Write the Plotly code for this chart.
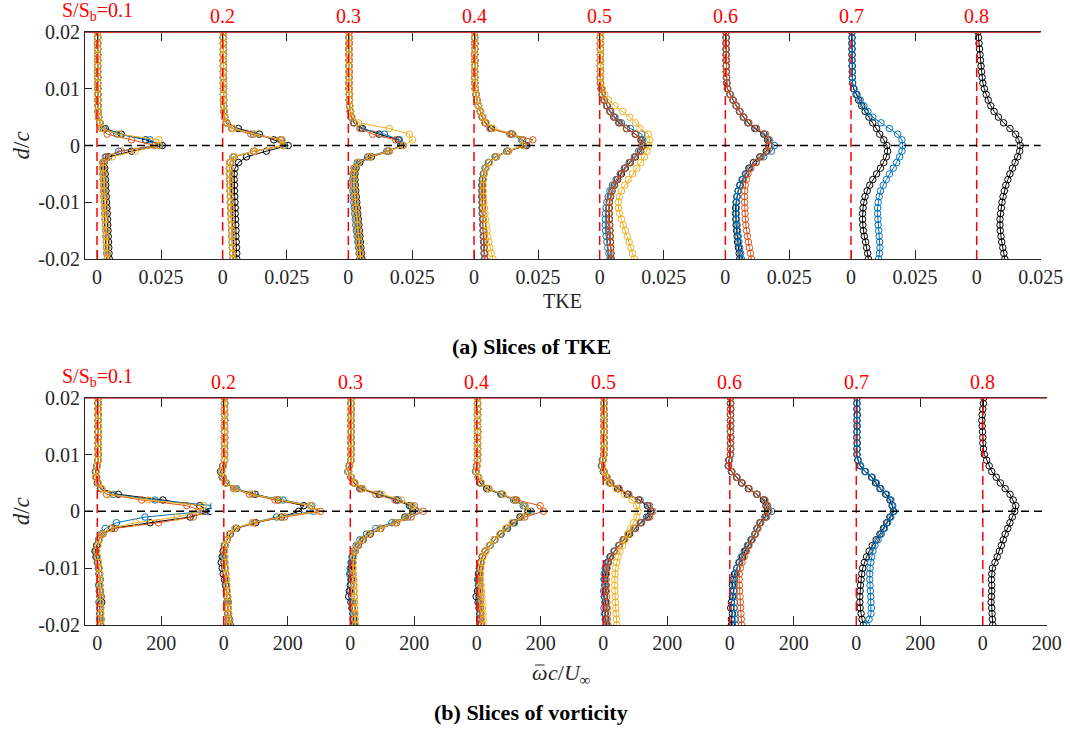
import plotly.graph_objects as go

# ---------------------------------------------------------------------------
# Wall-normal coordinate shared by every profile
# ---------------------------------------------------------------------------
D_C = [0.020, 0.019, 0.018, 0.017, 0.016, 0.015, 0.014, 0.013, 0.012, 0.011,
       0.010, 0.009, 0.008, 0.007, 0.006, 0.005, 0.004, 0.003, 0.002, 0.001,
       0.000, -0.001, -0.002, -0.003, -0.004, -0.005, -0.006, -0.007, -0.008, -0.009,
       -0.010, -0.011, -0.012, -0.013, -0.014, -0.015, -0.016, -0.017, -0.018, -0.019,
       -0.020]

SLICE_LABELS = ["0.1", "0.2", "0.3", "0.4", "0.5", "0.6", "0.7", "0.8"]
Y_TICKS = [-0.02, -0.01, 0.0, 0.01, 0.02]
Y_TICK_TEXT = ["-0.02", "-0.01", "0", "0.01", "0.02"]

# ---------------------------------------------------------------------------
# TKE profiles (k = black, b = blue, o = orange, y = yellow)
# ---------------------------------------------------------------------------
TKE_01_K = [0.0003, 0.0003, 0.0002, 0.0003, 0.0003, 0.0003, 0.0002, 0.0003, 0.0003, 0.0003,
            0.0003, 0.0004, 0.0003, 0.0004, 0.0004, 0.0006, 0.0011, 0.0032, 0.0095, 0.0190,
            0.0255, 0.0135, 0.0045, 0.0028, 0.0030, 0.0032, 0.0033, 0.0034, 0.0035, 0.0036,
            0.0037, 0.0039, 0.0040, 0.0041, 0.0042, 0.0043, 0.0044, 0.0045, 0.0046, 0.0047, 0.0048]
TKE_01_B = [0.0002, 0.0003, 0.0003, 0.0002, 0.0003, 0.0003, 0.0003, 0.0002, 0.0003, 0.0003,
            0.0003, 0.0003, 0.0004, 0.0004, 0.0005, 0.0007, 0.0012, 0.0025, 0.0077, 0.0207,
            0.0245, 0.0085, 0.0036, 0.0025, 0.0024, 0.0025, 0.0026, 0.0027, 0.0028, 0.0029,
            0.0030, 0.0031, 0.0032, 0.0033, 0.0034, 0.0035, 0.0036, 0.0037, 0.0038, 0.0039, 0.0040]
TKE_01_O = [0.0003, 0.0002, 0.0003, 0.0003, 0.0002, 0.0003, 0.0003, 0.0003, 0.0002, 0.0003,
            0.0003, 0.0003, 0.0003, 0.0004, 0.0004, 0.0006, 0.0010, 0.0018, 0.0040, 0.0135,
            0.0226, 0.0095, 0.0032, 0.0022, 0.0022, 0.0023, 0.0024, 0.0025, 0.0026, 0.0027,
            0.0028, 0.0029, 0.0030, 0.0031, 0.0033, 0.0034, 0.0035, 0.0036, 0.0037, 0.0038, 0.0040]
TKE_01_Y = [0.0003, 0.0003, 0.0003, 0.0002, 0.0003, 0.0003, 0.0002, 0.0003, 0.0003, 0.0003,
            0.0002, 0.0003, 0.0003, 0.0004, 0.0005, 0.0007, 0.0012, 0.0020, 0.0085, 0.0242,
            0.0240, 0.0150, 0.0060, 0.0026, 0.0024, 0.0025, 0.0026, 0.0027, 0.0028, 0.0029,
            0.0030, 0.0031, 0.0032, 0.0033, 0.0034, 0.0035, 0.0036, 0.0037, 0.0038, 0.0039, 0.0040]

TKE_02_K = [0.0003, 0.0002, 0.0003, 0.0003, 0.0003, 0.0002, 0.0003, 0.0003, 0.0003, 0.0003,
            0.0003, 0.0003, 0.0004, 0.0004, 0.0005, 0.0008, 0.0016, 0.0061, 0.0143, 0.0200,
            0.0256, 0.0171, 0.0093, 0.0062, 0.0048, 0.0045, 0.0045, 0.0046, 0.0046, 0.0047,
            0.0048, 0.0049, 0.0049, 0.0050, 0.0051, 0.0052, 0.0052, 0.0053, 0.0054, 0.0055, 0.0055]
TKE_02_B = [0.0002, 0.0003, 0.0003, 0.0003, 0.0002, 0.0003, 0.0003, 0.0003, 0.0002, 0.0003,
            0.0003, 0.0003, 0.0003, 0.0004, 0.0005, 0.0007, 0.0014, 0.0040, 0.0120, 0.0230,
            0.0242, 0.0125, 0.0040, 0.0028, 0.0026, 0.0026, 0.0027, 0.0028, 0.0029, 0.0030,
            0.0030, 0.0031, 0.0032, 0.0033, 0.0034, 0.0035, 0.0036, 0.0037, 0.0038, 0.0039, 0.0040]
TKE_02_O = [0.0003, 0.0003, 0.0002, 0.0003, 0.0003, 0.0003, 0.0002, 0.0003, 0.0003, 0.0003,
            0.0003, 0.0003, 0.0003, 0.0004, 0.0005, 0.0007, 0.0013, 0.0035, 0.0110, 0.0225,
            0.0236, 0.0120, 0.0045, 0.0030, 0.0028, 0.0028, 0.0029, 0.0030, 0.0030, 0.0031,
            0.0032, 0.0033, 0.0033, 0.0034, 0.0035, 0.0036, 0.0037, 0.0038, 0.0038, 0.0039, 0.0040]
TKE_02_Y = [0.0003, 0.0003, 0.0003, 0.0002, 0.0003, 0.0003, 0.0003, 0.0003, 0.0002, 0.0003,
            0.0003, 0.0003, 0.0004, 0.0004, 0.0005, 0.0008, 0.0015, 0.0040, 0.0125, 0.0233,
            0.0238, 0.0125, 0.0042, 0.0027, 0.0026, 0.0026, 0.0027, 0.0028, 0.0029, 0.0030,
            0.0031, 0.0032, 0.0033, 0.0034, 0.0035, 0.0036, 0.0037, 0.0038, 0.0039, 0.0040, 0.0041]

TKE_03_K = [0.0003, 0.0003, 0.0003, 0.0002, 0.0003, 0.0003, 0.0003, 0.0003, 0.0003, 0.0003,
            0.0003, 0.0004, 0.0004, 0.0005, 0.0008, 0.0012, 0.0022, 0.0055, 0.0120, 0.0195,
            0.0205, 0.0160, 0.0090, 0.0045, 0.0030, 0.0026, 0.0026, 0.0027, 0.0029, 0.0031,
            0.0033, 0.0035, 0.0037, 0.0039, 0.0041, 0.0043, 0.0045, 0.0047, 0.0049, 0.0051, 0.0053]
TKE_03_B = [0.0003, 0.0002, 0.0003, 0.0003, 0.0003, 0.0003, 0.0002, 0.0003, 0.0003, 0.0003,
            0.0003, 0.0004, 0.0004, 0.0005, 0.0008, 0.0012, 0.0022, 0.0050, 0.0141, 0.0200,
            0.0212, 0.0150, 0.0075, 0.0035, 0.0022, 0.0018, 0.0017, 0.0017, 0.0018, 0.0019,
            0.0021, 0.0023, 0.0025, 0.0027, 0.0029, 0.0031, 0.0034, 0.0037, 0.0040, 0.0042, 0.0045]
TKE_03_O = [0.0003, 0.0003, 0.0003, 0.0003, 0.0002, 0.0003, 0.0003, 0.0003, 0.0003, 0.0002,
            0.0003, 0.0003, 0.0004, 0.0005, 0.0007, 0.0011, 0.0020, 0.0045, 0.0095, 0.0185,
            0.0215, 0.0155, 0.0080, 0.0040, 0.0024, 0.0021, 0.0021, 0.0022, 0.0023, 0.0025,
            0.0027, 0.0029, 0.0031, 0.0033, 0.0035, 0.0037, 0.0039, 0.0041, 0.0043, 0.0044, 0.0046]
TKE_03_Y = [0.0003, 0.0003, 0.0002, 0.0003, 0.0003, 0.0003, 0.0003, 0.0002, 0.0003, 0.0003,
            0.0003, 0.0004, 0.0005, 0.0006, 0.0009, 0.0015, 0.0040, 0.0160, 0.0238, 0.0251,
            0.0215, 0.0160, 0.0085, 0.0040, 0.0025, 0.0022, 0.0022, 0.0023, 0.0025, 0.0027,
            0.0029, 0.0031, 0.0033, 0.0035, 0.0037, 0.0039, 0.0041, 0.0043, 0.0045, 0.0046, 0.0048]

TKE_04_K = [0.0003, 0.0003, 0.0003, 0.0003, 0.0002, 0.0003, 0.0003, 0.0003, 0.0003, 0.0003,
            0.0005, 0.0008, 0.0012, 0.0018, 0.0025, 0.0033, 0.0045, 0.0068, 0.0150, 0.0190,
            0.0205, 0.0130, 0.0085, 0.0058, 0.0045, 0.0038, 0.0034, 0.0032, 0.0032, 0.0032,
            0.0033, 0.0033, 0.0034, 0.0035, 0.0036, 0.0037, 0.0038, 0.0039, 0.0040, 0.0041, 0.0042]
TKE_04_B = [0.0003, 0.0002, 0.0003, 0.0003, 0.0003, 0.0003, 0.0003, 0.0002, 0.0003, 0.0003,
            0.0005, 0.0008, 0.0012, 0.0017, 0.0024, 0.0032, 0.0044, 0.0065, 0.0145, 0.0185,
            0.0195, 0.0128, 0.0082, 0.0056, 0.0043, 0.0036, 0.0032, 0.0030, 0.0030, 0.0030,
            0.0031, 0.0031, 0.0032, 0.0033, 0.0034, 0.0035, 0.0036, 0.0037, 0.0038, 0.0039, 0.0040]
TKE_04_O = [0.0003, 0.0003, 0.0002, 0.0003, 0.0003, 0.0003, 0.0003, 0.0003, 0.0002, 0.0003,
            0.0005, 0.0008, 0.0011, 0.0017, 0.0024, 0.0032, 0.0043, 0.0062, 0.0140, 0.0230,
            0.0200, 0.0135, 0.0088, 0.0060, 0.0046, 0.0039, 0.0035, 0.0033, 0.0032, 0.0032,
            0.0033, 0.0034, 0.0034, 0.0035, 0.0036, 0.0037, 0.0038, 0.0039, 0.0040, 0.0041, 0.0042]
TKE_04_Y = [0.0003, 0.0003, 0.0003, 0.0002, 0.0003, 0.0003, 0.0002, 0.0003, 0.0003, 0.0003,
            0.0005, 0.0008, 0.0012, 0.0018, 0.0026, 0.0035, 0.0048, 0.0075, 0.0152, 0.0188,
            0.0190, 0.0132, 0.0086, 0.0060, 0.0047, 0.0040, 0.0037, 0.0036, 0.0036, 0.0037,
            0.0039, 0.0041, 0.0043, 0.0045, 0.0048, 0.0051, 0.0054, 0.0058, 0.0062, 0.0068, 0.0074]

TKE_05_K = [0.0003, 0.0003, 0.0003, 0.0003, 0.0003, 0.0002, 0.0003, 0.0003, 0.0003, 0.0003,
            0.0006, 0.0010, 0.0018, 0.0028, 0.0040, 0.0055, 0.0075, 0.0105, 0.0140, 0.0162,
            0.0170, 0.0160, 0.0140, 0.0120, 0.0100, 0.0085, 0.0070, 0.0058, 0.0048, 0.0042,
            0.0038, 0.0037, 0.0037, 0.0038, 0.0039, 0.0040, 0.0041, 0.0042, 0.0043, 0.0044, 0.0045]
TKE_05_B = [0.0003, 0.0003, 0.0002, 0.0003, 0.0003, 0.0003, 0.0003, 0.0003, 0.0002, 0.0003,
            0.0006, 0.0011, 0.0019, 0.0030, 0.0043, 0.0060, 0.0085, 0.0120, 0.0164, 0.0168,
            0.0165, 0.0152, 0.0135, 0.0115, 0.0096, 0.0080, 0.0064, 0.0050, 0.0040, 0.0033,
            0.0028, 0.0025, 0.0023, 0.0022, 0.0022, 0.0023, 0.0025, 0.0028, 0.0032, 0.0036, 0.0040]
TKE_05_O = [0.0003, 0.0002, 0.0003, 0.0003, 0.0003, 0.0003, 0.0002, 0.0003, 0.0003, 0.0003,
            0.0006, 0.0010, 0.0017, 0.0027, 0.0040, 0.0056, 0.0078, 0.0105, 0.0138, 0.0160,
            0.0166, 0.0158, 0.0138, 0.0118, 0.0098, 0.0082, 0.0068, 0.0056, 0.0047, 0.0041,
            0.0037, 0.0036, 0.0036, 0.0037, 0.0038, 0.0039, 0.0040, 0.0041, 0.0042, 0.0043, 0.0044]
TKE_05_Y = [0.0003, 0.0003, 0.0003, 0.0002, 0.0003, 0.0003, 0.0003, 0.0003, 0.0004, 0.0005,
            0.0010, 0.0020, 0.0035, 0.0060, 0.0090, 0.0118, 0.0140, 0.0157, 0.0190, 0.0196,
            0.0192, 0.0185, 0.0175, 0.0160, 0.0145, 0.0128, 0.0112, 0.0098, 0.0085, 0.0077,
            0.0073, 0.0073, 0.0078, 0.0085, 0.0092, 0.0100, 0.0108, 0.0115, 0.0122, 0.0128, 0.0135]

TKE_06_K = [0.0003, 0.0003, 0.0003, 0.0003, 0.0003, 0.0003, 0.0003, 0.0004, 0.0004, 0.0005,
            0.0008, 0.0018, 0.0030, 0.0042, 0.0055, 0.0070, 0.0088, 0.0115, 0.0150, 0.0165,
            0.0170, 0.0160, 0.0135, 0.0110, 0.0092, 0.0080, 0.0068, 0.0058, 0.0050, 0.0045,
            0.0042, 0.0040, 0.0040, 0.0041, 0.0042, 0.0044, 0.0046, 0.0048, 0.0051, 0.0054, 0.0056]
TKE_06_B = [0.0003, 0.0003, 0.0003, 0.0003, 0.0003, 0.0003, 0.0004, 0.0004, 0.0005, 0.0006,
            0.0009, 0.0019, 0.0031, 0.0043, 0.0057, 0.0072, 0.0090, 0.0120, 0.0152, 0.0172,
            0.0192, 0.0180, 0.0150, 0.0120, 0.0095, 0.0078, 0.0065, 0.0056, 0.0050, 0.0046,
            0.0044, 0.0043, 0.0043, 0.0044, 0.0046, 0.0048, 0.0050, 0.0053, 0.0056, 0.0060, 0.0063]
TKE_06_O = [0.0003, 0.0003, 0.0003, 0.0003, 0.0003, 0.0004, 0.0004, 0.0004, 0.0005, 0.0006,
            0.0009, 0.0018, 0.0030, 0.0043, 0.0056, 0.0072, 0.0092, 0.0122, 0.0157, 0.0168,
            0.0172, 0.0165, 0.0140, 0.0121, 0.0100, 0.0088, 0.0082, 0.0078, 0.0076, 0.0075,
            0.0075, 0.0076, 0.0077, 0.0078, 0.0080, 0.0083, 0.0086, 0.0090, 0.0094, 0.0098, 0.0102]

TKE_07_K = [0.0004, 0.0004, 0.0004, 0.0004, 0.0004, 0.0004, 0.0005, 0.0005, 0.0005, 0.0006,
            0.0010, 0.0020, 0.0030, 0.0042, 0.0055, 0.0070, 0.0085, 0.0100, 0.0112, 0.0128,
            0.0140, 0.0143, 0.0138, 0.0128, 0.0115, 0.0100, 0.0085, 0.0073, 0.0063, 0.0055,
            0.0050, 0.0047, 0.0045, 0.0045, 0.0046, 0.0048, 0.0052, 0.0057, 0.0061, 0.0065, 0.0068]
TKE_07_B = [0.0003, 0.0003, 0.0003, 0.0004, 0.0004, 0.0004, 0.0004, 0.0005, 0.0005, 0.0006,
            0.0012, 0.0024, 0.0036, 0.0050, 0.0066, 0.0085, 0.0117, 0.0150, 0.0182, 0.0199,
            0.0202, 0.0199, 0.0190, 0.0178, 0.0165, 0.0150, 0.0138, 0.0126, 0.0115, 0.0110,
            0.0106, 0.0104, 0.0104, 0.0105, 0.0106, 0.0108, 0.0110, 0.0112, 0.0113, 0.0111, 0.0108]

TKE_08_K = [0.0005, 0.0007, 0.0009, 0.0011, 0.0013, 0.0015, 0.0017, 0.0019, 0.0021, 0.0024,
            0.0030, 0.0037, 0.0045, 0.0055, 0.0068, 0.0085, 0.0105, 0.0130, 0.0152, 0.0165,
            0.0170, 0.0168, 0.0160, 0.0150, 0.0140, 0.0130, 0.0122, 0.0114, 0.0108, 0.0103,
            0.0099, 0.0096, 0.0093, 0.0091, 0.0091, 0.0092, 0.0095, 0.0098, 0.0102, 0.0106, 0.0110]

# ---------------------------------------------------------------------------
# Mean vorticity profiles, omega_bar c / U_inf
# ---------------------------------------------------------------------------
VOR_01_K = [3, 2, 3, 2, 3, 3, 2, 3, 3, 2,
            3, 2, 0, -5, -3, 0, 10, 66, 205, 320,
            352, 290, 165, 45, 14, 5, -2, -7, -4, 2,
            5, 7, 9, 6, 10, 12, 14, 10, 8, 12, 9]
VOR_01_B = [2, 3, 2, 3, 2, 2, 3, 2, 3, 3,
            2, 3, -2, -6, -4, 2, 10, 50, 180, 363,
            340, 149, 60, 25, 12, 4, 0, -4, -2, 0,
            3, 5, 8, 4, 6, 9, 5, 8, 10, 7, 10]
VOR_01_O = [3, 3, 2, 3, 3, 2, 3, 3, 2, 3,
            3, 2, -1, -4, -2, 2, 12, 29, 139, 280,
            331, 300, 191, 55, 18, 6, 1, -3, 0, 3,
            5, 6, 7, 8, 8, 9, 9, 10, 10, 11, 11]
VOR_01_Y = [2, 3, 3, 2, 3, 3, 2, 3, 3, 3,
            2, 3, 0, -3, -6, 3, 15, 40, 160, 331,
            316, 250, 120, 40, 14, 6, 2, -2, 1, 4,
            6, 7, 8, 8, 9, 10, 10, 11, 11, 12, 12]

VOR_02_K = [2, 3, 2, 2, 3, 2, 2, 3, 2, 2,
            2, 2, -3, -10, -5, 5, 35, 98, 170, 250,
            234, 180, 100, 40, 20, 10, 2, -2, -5, -8,
            -5, -2, 2, 5, 8, 10, 14, 12, 15, 18, 20]
VOR_02_B = [3, 2, 2, 3, 2, 3, 2, 2, 3, 2,
            3, 2, -2, -8, -2, 8, 40, 90, 185, 275,
            280, 165, 90, 35, 18, 9, 3, 0, -2, 0,
            3, 5, 8, 6, 10, 12, 9, 14, 12, 15, 13]
VOR_02_O = [2, 2, 3, 2, 3, 2, 3, 2, 2, 3,
            2, 3, -2, -6, -3, 6, 30, 80, 160, 270,
            302, 190, 95, 38, 18, 10, 5, 2, 2, 3,
            5, 6, 8, 9, 10, 11, 12, 12, 13, 14, 15]
VOR_02_Y = [3, 2, 2, 3, 2, 2, 3, 2, 3, 2,
            2, 2, -1, -7, -3, 7, 35, 88, 175, 271,
            290, 175, 90, 36, 17, 9, 4, 2, 3, 4,
            6, 7, 9, 10, 11, 12, 13, 14, 15, 17, 18]

VOR_03_K = [2, 2, 3, 2, 2, 3, 2, 2, 3, 2,
            2, 2, -3, -6, 3, 12, 30, 90, 145, 185,
            195, 171, 140, 95, 62, 40, 25, 15, 8, 5,
            3, 2, 4, 0, -3, -5, 2, 6, 8, 10, 12]
VOR_03_B = [3, 2, 2, 3, 2, 2, 3, 2, 2, 3,
            2, 2, -4, -8, 2, 14, 36, 93, 150, 190,
            205, 180, 130, 80, 50, 30, 18, 10, 5, 2,
            0, -2, 1, 3, 0, 4, 7, 5, 9, 8, 10]
VOR_03_O = [2, 3, 2, 2, 3, 2, 2, 3, 2, 2,
            3, 2, -2, -5, 3, 12, 32, 80, 140, 200,
            228, 190, 145, 95, 60, 38, 24, 15, 10, 8,
            7, 8, 9, 10, 11, 12, 12, 13, 14, 15, 16]
VOR_03_Y = [2, 2, 2, 3, 2, 3, 2, 2, 2, 3,
            2, 3, -2, -6, 4, 15, 40, 100, 160, 195,
            200, 175, 140, 92, 58, 36, 22, 14, 10, 9,
            9, 10, 11, 12, 12, 13, 14, 14, 15, 15, 16]

VOR_04_K = [2, 2, 3, 2, 2, 2, 3, 2, 2, 2,
            3, 2, 0, -3, 5, 10, 31, 78, 120, 150,
            160, 135, 115, 95, 75, 55, 40, 26, 17, 12,
            8, 5, 3, 6, 2, -2, 4, 7, 9, 10, 12]
VOR_04_B = [2, 3, 2, 2, 3, 2, 2, 2, 3, 2,
            2, 3, -1, -4, 4, 12, 35, 75, 115, 145,
            170, 140, 118, 96, 76, 57, 42, 28, 18, 12,
            9, 7, 6, 5, 7, 6, 8, 9, 10, 11, 12]
VOR_04_O = [3, 2, 2, 3, 2, 2, 3, 2, 2, 3,
            2, 2, 0, -2, 5, 14, 38, 80, 125, 198,
            208, 150, 112, 92, 73, 55, 40, 27, 18, 13,
            10, 9, 9, 10, 10, 11, 11, 12, 13, 14, 15]
VOR_04_Y = [2, 2, 3, 2, 3, 2, 2, 3, 2, 2,
            3, 2, 1, -2, 6, 14, 36, 82, 118, 150,
            165, 140, 110, 90, 72, 54, 40, 28, 20, 15,
            13, 12, 13, 14, 15, 16, 17, 18, 19, 20, 20]

VOR_05_K = [2, 2, 2, 3, 2, 2, 3, 2, 2, 2,
            2, -2, -5, 0, 8, 20, 45, 75, 110, 138,
            148, 140, 118, 100, 82, 65, 50, 35, 22, 15,
            10, 7, 5, 8, 6, 4, 7, 9, 6, 8, 10]
VOR_05_B = [3, 2, 2, 2, 3, 2, 2, 2, 3, 2,
            2, -3, -6, 2, 10, 22, 48, 78, 115, 140,
            150, 135, 115, 95, 78, 62, 48, 33, 20, 12,
            6, 3, 2, 4, 1, 3, 5, 2, 4, 6, 8]
VOR_05_O = [2, 3, 2, 2, 2, 3, 2, 2, 2, 3,
            2, -1, -4, 3, 12, 24, 50, 80, 112, 145,
            155, 145, 120, 98, 80, 63, 49, 36, 24, 17,
            12, 10, 9, 9, 10, 10, 11, 12, 13, 13, 14]
VOR_05_Y = [2, 2, 3, 2, 2, 2, 3, 2, 2, 2,
            3, 0, -3, 2, 8, 18, 40, 65, 90, 104,
            108, 105, 94, 85, 76, 68, 60, 52, 46, 42,
            39, 37, 36, 36, 36, 37, 38, 39, 40, 41, 42]

VOR_06_K = [2, 2, 3, 2, 2, 2, 2, 3, 2, 2,
            2, -3, -5, 5, 21, 37, 58, 84, 105, 113,
            118, 110, 94, 85, 79, 68, 58, 48, 40, 30,
            22, 15, 10, 8, 12, 8, 5, 3, 8, 5, 5]
VOR_06_B = [2, 3, 2, 2, 2, 3, 2, 2, 2, 3,
            2, -2, -4, 6, 22, 38, 60, 86, 108, 118,
            131, 115, 96, 86, 78, 66, 55, 45, 36, 28,
            22, 18, 15, 14, 13, 12, 14, 13, 15, 16, 18]
VOR_06_O = [3, 2, 2, 2, 3, 2, 2, 2, 3, 2,
            2, -1, -3, 7, 23, 39, 60, 85, 110, 118,
            122, 112, 97, 88, 80, 70, 60, 52, 45, 38,
            33, 30, 29, 30, 31, 32, 33, 34, 35, 36, 37]

VOR_07_K = [2, 2, 2, 3, 2, 2, 2, 2, 3, 2,
            2, 5, 12, 27, 48, 60, 74, 92, 105, 112,
            116, 105, 95, 85, 74, 62, 50, 40, 32, 25,
            20, 17, 15, 13, 12, 11, 11, 12, 15, 18, 22]
VOR_07_B = [3, 2, 2, 2, 2, 3, 2, 2, 2, 3,
            2, 6, 14, 29, 50, 63, 77, 95, 108, 114,
            118, 108, 98, 88, 78, 68, 58, 52, 48, 45,
            43, 42, 42, 43, 44, 45, 46, 47, 46, 40, 31]

VOR_08_K = [3, 2, 0, -2, -3, -2, -1, 0, 0, 2,
            5, 12, 20, 28, 42, 55, 70, 85, 95, 103,
            100, 92, 85, 78, 70, 64, 58, 52, 45, 38,
            30, 28, 27, 28, 28, 27, 26, 28, 29, 30, 31]

TKE_SLICES = [
    [("k", TKE_01_K), ("b", TKE_01_B), ("o", TKE_01_O), ("y", TKE_01_Y)],
    [("k", TKE_02_K), ("b", TKE_02_B), ("o", TKE_02_O), ("y", TKE_02_Y)],
    [("k", TKE_03_K), ("b", TKE_03_B), ("o", TKE_03_O), ("y", TKE_03_Y)],
    [("k", TKE_04_K), ("b", TKE_04_B), ("o", TKE_04_O), ("y", TKE_04_Y)],
    [("k", TKE_05_K), ("b", TKE_05_B), ("o", TKE_05_O), ("y", TKE_05_Y)],
    [("k", TKE_06_K), ("b", TKE_06_B), ("o", TKE_06_O)],
    [("k", TKE_07_K), ("b", TKE_07_B)],
    [("k", TKE_08_K)],
]
VOR_SLICES = [
    [("k", VOR_01_K), ("b", VOR_01_B), ("o", VOR_01_O), ("y", VOR_01_Y)],
    [("k", VOR_02_K), ("b", VOR_02_B), ("o", VOR_02_O), ("y", VOR_02_Y)],
    [("k", VOR_03_K), ("b", VOR_03_B), ("o", VOR_03_O), ("y", VOR_03_Y)],
    [("k", VOR_04_K), ("b", VOR_04_B), ("o", VOR_04_O), ("y", VOR_04_Y)],
    [("k", VOR_05_K), ("b", VOR_05_B), ("o", VOR_05_O), ("y", VOR_05_Y)],
    [("k", VOR_06_K), ("b", VOR_06_B), ("o", VOR_06_O)],
    [("k", VOR_07_K), ("b", VOR_07_B)],
    [("k", VOR_08_K)],
]

# ---------------------------------------------------------------------------
# Styling and page geometry (pixels on a 1070 x 731 page)
# ---------------------------------------------------------------------------
W, H = 1070, 731
FONT = "Liberation Serif, Times New Roman, Times, serif"
INK = "#262626"
COLORS = {"k": "#000000", "b": "#0072BD", "o": "#D95319", "y": "#EDB120"}
TICK_SIZE = 20

PANELS = [
    dict(slices=TKE_SLICES, top=32.0, bottom=259.0, left=85.0, zero0=97.0, step=125.67,
         px_per_unit=64.0 / 0.025, tick=0.025, tick_text="0.025",
         yl="y", yr="y2", caption="<b>(a) Slices of TKE</b>",
         caption_y=346, label_y=16, first_label_y=11),
    dict(slices=VOR_SLICES, top=397.7, bottom=625.0, left=85.0, zero0=97.3, step=126.5,
         px_per_unit=0.32, tick=200, tick_text="200",
         yl="y3", yr="y4", caption="<b>(b) Slices of vorticity</b>",
         caption_y=712, label_y=382, first_label_y=377),
]


def fx(p):
    return p / W


def fy(p):
    return 1.0 - p / H


fig = go.Figure()
layout = dict(
    width=W, height=H, margin=dict(l=0, r=0, t=0, b=0, autoexpand=False),
    paper_bgcolor="white", plot_bgcolor="white", showlegend=False,
    font=dict(family=FONT, size=18, color=INK),
)
shapes, annotations = [], []

for p, panel in enumerate(PANELS):
    n = len(panel["slices"])
    lo = -(panel["zero0"] - panel["left"]) / panel["px_per_unit"]
    hi_mid = (panel["step"] - (panel["zero0"] - panel["left"])) / panel["px_per_unit"]
    ydom = [fy(panel["bottom"]), fy(panel["top"])]
    right_px = None

    for k, series in enumerate(panel["slices"]):
        idx = p * n + k + 1
        xname = "xaxis" if idx == 1 else f"xaxis{idx}"
        xref = "x" if idx == 1 else f"x{idx}"
        zero_px = panel["zero0"] + panel["step"] * k
        d0 = panel["left"] + panel["step"] * k
        if k < n - 1:
            d1 = panel["left"] + panel["step"] * (k + 1)
            hi = hi_mid
        else:
            hi = panel["tick"]
            d1 = zero_px + panel["tick"] * panel["px_per_unit"]
            right_px = d1
        layout[xname] = dict(
            domain=[fx(d0), fx(d1)], range=[lo, hi], anchor=panel["yl"],
            tickvals=[0, panel["tick"]], ticktext=["0", panel["tick_text"]],
            ticks="inside", ticklen=9, tickwidth=1, tickcolor=INK,
            showline=True, linecolor=INK, linewidth=1, mirror="ticks",
            showgrid=False, zeroline=False, fixedrange=True, automargin=False,
            tickfont=dict(family=FONT, size=TICK_SIZE, color=INK),
        )
        for key, vals in series:
            fig.add_trace(go.Scatter(
                x=vals, y=D_C, xaxis=xref, yaxis=panel["yl"], mode="lines+markers",
                line=dict(color=COLORS[key], width=1),
                marker=dict(symbol="circle-open", size=6.5, color=COLORS[key],
                            line=dict(width=1)),
                hoverinfo="skip",
            ))
        # red dashed reference line at zero for each slice
        shapes.append(dict(type="line", xref=xref, yref=panel["yl"], x0=0, x1=0,
                           y0=Y_TICKS[0], y1=Y_TICKS[-1],
                           line=dict(color="#ff0000", width=1.5, dash="9px,5px")))
        label = ("S/S<sub>b</sub>=" + SLICE_LABELS[k]) if k == 0 else SLICE_LABELS[k]
        annotations.append(dict(
            text=label, xref=xref, x=0, yref="paper",
            y=fy(panel["first_label_y"] if k == 0 else panel["label_y"]),
            xanchor="center", yanchor="middle", showarrow=False,
            font=dict(family=FONT, size=20, color="#ff0000"),
        ))

    left_y = "yaxis" if panel["yl"] == "y" else "yaxis" + panel["yl"][1:]
    right_y = "yaxis" + panel["yr"][1:]
    first_x = "x" if p == 0 else f"x{p * n + 1}"
    last_x = f"x{p * n + n}"
    common_y = dict(range=[Y_TICKS[0], Y_TICKS[-1]], tickvals=Y_TICKS, ticks="inside",
                    ticklen=7, tickwidth=1, tickcolor=INK, showline=True, linecolor=INK,
                    linewidth=1, showgrid=False, zeroline=False, fixedrange=True,
                    automargin=False)
    layout[left_y] = dict(domain=ydom, anchor=first_x, side="left", ticktext=Y_TICK_TEXT,
                          tickfont=dict(family=FONT, size=TICK_SIZE, color=INK), **common_y)
    layout[right_y] = dict(overlaying=panel["yl"], anchor=last_x, side="right",
                           showticklabels=False, **common_y)

    # black dashed line along d/c = 0 and the red upper edge of the frame
    shapes.append(dict(type="line", xref="paper", yref=panel["yl"],
                       x0=fx(panel["left"]), x1=fx(right_px), y0=0, y1=0,
                       line=dict(color="#000000", width=1.5, dash="8px,5px")))
    shapes.append(dict(type="line", xref="paper", yref=panel["yl"],
                       x0=fx(panel["left"]), x1=fx(right_px), y0=Y_TICKS[-1], y1=Y_TICKS[-1],
                       line=dict(color="#c83c3c", width=2.2)))

    annotations.append(dict(text=panel["caption"], xref="paper", yref="paper",
                            x=fx(531), y=fy(panel["caption_y"]),
                            xanchor="center", yanchor="middle", showarrow=False,
                            font=dict(family=FONT, size=22, color="#000000")))
    annotations.append(dict(text="<i>d</i>/<i>c</i>", xref="paper", yref="paper",
                            x=fx(21), y=fy((panel["top"] + panel["bottom"]) / 2),
                            xanchor="center", yanchor="middle", textangle=-90,
                            showarrow=False, font=dict(family=FONT, size=23, color=INK)))

# x-axis titles
annotations.append(dict(text="TKE", xref="paper", yref="paper", x=fx(562.5), y=fy(301),
                        xanchor="center", yanchor="middle", showarrow=False,
                        font=dict(family=FONT, size=20, color=INK)))
# omega-bar c / U_inf: the omega and the rest share a top edge so their baselines agree,
# and the bar is drawn over the omega
MATH_FONT = dict(family=FONT, size=22, color=INK)
annotations.append(dict(text="<i>ω</i>", xref="paper", yref="paper", x=fx(539.5), y=fy(657.5),
                        xanchor="center", yanchor="top", showarrow=False, font=MATH_FONT))
annotations.append(dict(text="<i>c</i>/<i>U</i><sub>∞</sub>", xref="paper", yref="paper",
                        x=fx(546), y=fy(657.5), xanchor="left", yanchor="top",
                        showarrow=False, font=MATH_FONT))
shapes.append(dict(type="line", xref="paper", yref="paper", x0=fx(535), x1=fx(544.5),
                   y0=fy(665), y1=fy(665), line=dict(color=INK, width=1)))

layout["shapes"] = shapes
layout["annotations"] = annotations
fig.update_layout(**layout)
fig.write_html("out.html")
